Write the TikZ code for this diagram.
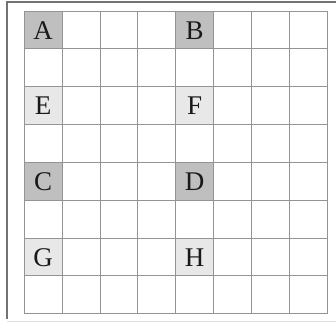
\documentclass[tikz,border=0pt]{standalone}
\usepackage{fontspec}
\setmainfont{Liberation Serif}
\begin{document}
\begin{tikzpicture}[x=1pt,y=-1pt,
  gridline/.style={draw=black!42,line width=1pt},
  darkcell/.style={fill=black!25},
  lightcell/.style={fill=black!9},
  letter/.style={font=\fontsize{27}{27}\selectfont,text=black!90,inner sep=0pt}]
\useasboundingbox (0,0) rectangle (336,322);
% outer frame
\draw[black!55,line width=1.5pt] (336,2) -- (7,2) -- (7,319);
\draw[black!12,line width=1pt] (7,321.5) -- (336,321.5);
% shaded cells
\def\cw{37.85}
\def\gx{24.3}
\def\gy{11}
\foreach \c/\r/\s/\t in {0/0/darkcell/A,4/0/darkcell/B,0/2/lightcell/E,4/2/lightcell/F,0/4/darkcell/C,4/4/darkcell/D,0/6/lightcell/G,4/6/lightcell/H}{
  \fill[\s] ({\gx+\c*\cw},{\gy+\r*\cw}) rectangle ({\gx+(\c+1)*\cw},{\gy+(\r+1)*\cw});
  \node[letter] (cell\t) at ({\gx+(\c+0.5)*\cw},{\gy+(\r+0.5)*\cw+0.5}) {\t};
}
% grid
\foreach \i in {0,...,8}{
  \draw[gridline] ({\gx+\i*\cw},\gy) -- ({\gx+\i*\cw},{\gy+8*\cw});
  \draw[gridline] (\gx,{\gy+\i*\cw}) -- ({\gx+8*\cw},{\gy+\i*\cw});
}
\end{tikzpicture}
\end{document}
